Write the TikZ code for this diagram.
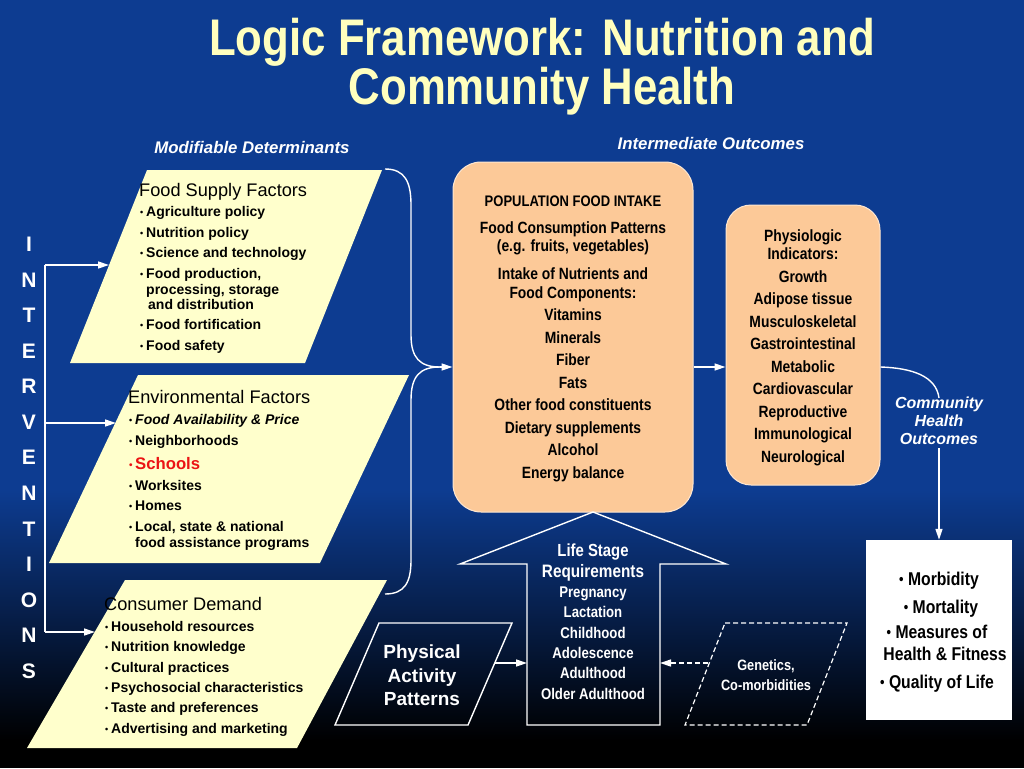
\documentclass[tikz,border=0pt]{standalone}
\usepackage{fontspec}
\setmainfont{Liberation Sans}
\newfontfamily\nar[FakeStretch=0.85]{Liberation Sans}
\usetikzlibrary{arrows.meta}
\definecolor{bgblue}{RGB}{13,60,145}
\definecolor{midc}{RGB}{52,62,108}
\definecolor{pyellow}{RGB}{255,255,204}
\definecolor{peach}{RGB}{252,201,152}
\definecolor{ttl}{RGB}{255,255,190}
\definecolor{schred}{RGB}{235,20,20}
\newcommand\fsz[2]{\fontsize{#1}{#2}\selectfont}
\newcommand\bul{\makebox[6pt][l]{\raisebox{0.5pt}{\fontsize{9}{9}\selectfont\textbullet}}}
\newcommand\obul{\raisebox{0.5pt}{\fontsize{15}{15}\selectfont\textbullet}\ }
\tikzset{
  wl/.style={draw=white, line width=1.4pt},
  arr/.style={wl, -{Triangle[length=11pt,width=7pt]}},
  ptxt/.style={anchor=base west, inner sep=0pt, font=\fsz{14}{16}\bfseries},
  phdr/.style={anchor=base west, inner sep=0pt, font=\fsz{18.2}{20}},
  ctxt/.style={anchor=base, inner sep=0pt, font=\nar\bfseries\fsz{16.3}{18}},
  otxt/.style={anchor=base, inner sep=0pt, font=\nar\bfseries\fsz{18.5}{20}},
  ltxt/.style={anchor=base, inner sep=0pt, text=white, font=\nar\bfseries\fsz{15.5}{18}},
  pbox/.style={rounded corners=28pt, fill=peach, draw=white!55!peach, line width=1pt, inner sep=0pt},
  ivl/.style={anchor=base, inner sep=0pt, text=white, font=\bfseries\fsz{21}{24}},
  sect/.style={inner sep=0pt, text=white, font=\bfseries\itshape\fsz{16.8}{18}},
  ttlst/.style={anchor=base, inner sep=0pt, text=ttl, font=\nar\bfseries\fsz{51.5}{50}},
}
\begin{document}
\begin{tikzpicture}[x=1pt,y=-1pt]
\useasboundingbox (0,0) rectangle (1024,768);
% background
\fill[bgblue] (0,0) rectangle (1024,491);
\shade[top color=bgblue, middle color=midc, bottom color=black] (0,490) rectangle (1024,741);
\fill[black] (0,740) rectangle (1024,768);

% title
\node[ttlst] (title1) at (542,56) {Logic Framework: Nutrition and};
\node[ttlst] (title2) at (542,104) {Community Health};

\node[sect] (md) at (252,147) {Modifiable Determinants};
\node[sect] (io) at (711,143) {Intermediate Outcomes};

% parallelograms
\fill[pyellow] (147,170) -- (382,170) -- (305,363) -- (70,363) -- cycle;
\fill[pyellow] (138,375) -- (409,375) -- (320,563) -- (49,563) -- cycle;
\fill[pyellow] (125,580) -- (387,580) -- (297,748) -- (27,748) -- cycle;

\node[phdr] (p1h) at (139,196.5) {Food Supply Factors};
\node[ptxt] (p1a) at (140,216) {\bul Agriculture policy};
\node[ptxt] (p1b) at (140,237) {\bul Nutrition policy};
\node[ptxt] (p1c) at (140,257) {\bul Science and technology};
\node[ptxt] (p1d) at (140,278) {\bul Food production,};
\node[ptxt] (p1e) at (146,294) {processing, storage};
\node[ptxt] (p1f) at (148,309) {and distribution};
\node[ptxt] (p1g) at (140,329) {\bul Food fortification};
\node[ptxt] (p1i) at (140,350) {\bul Food safety};

\node[phdr] (p2h) at (128,403.5) {Environmental Factors};
\node[ptxt] (p2a) at (129,424) {\bul\textit{Food Availability \& Price}};
\node[ptxt] (p2b) at (129,445) {\bul Neighborhoods};
\node[ptxt, text=schred, font=\fsz{16.7}{18}\bfseries] (p2c) at (129,469) {\makebox[6pt][l]{\raisebox{0.5pt}{\fontsize{10}{10}\selectfont\textbullet}}Schools};
\node[ptxt] (p2d) at (129,490) {\bul Worksites};
\node[ptxt] (p2e) at (129,510) {\bul Homes};
\node[ptxt] (p2f) at (129,531) {\bul Local, state \& national};
\node[ptxt] (p2g) at (135,547) {food assistance programs};

\node[phdr] (p3h) at (104,610.5) {Consumer Demand};
\node[ptxt] (p3a) at (105,631) {\bul Household resources};
\node[ptxt] (p3b) at (105,651) {\bul Nutrition knowledge};
\node[ptxt] (p3c) at (105,672) {\bul Cultural practices};
\node[ptxt] (p3d) at (105,692) {\bul Psychosocial characteristics};
\node[ptxt] (p3e) at (105,712) {\bul Taste and preferences};
\node[ptxt] (p3f) at (105,733) {\bul Advertising and marketing};

% INTERVENTIONS
\foreach \l [count=\i from 0] in {I,N,T,E,R,V,E,N,T,I,O,N,S}
  \node[ivl] (iv\i) at (29,{251.5+\i*35.58}) {\l};

\coordinate (ivA) at (45,265);
\coordinate (ivB) at (45,423);
\coordinate (ivC) at (45,632);
\coordinate (p1in) at (109,265);
\coordinate (p2in) at (116,423);
\coordinate (p3in) at (95,632);
\draw[wl] (ivA) -- (ivC);
\draw[arr] (ivA) -- (p1in);
\draw[arr] (ivB) -- (p2in);
\draw[arr] (ivC) -- (p3in);

% central box
\node[pbox, minimum width=240pt, minimum height=350pt] (intake) at (573,337) {};
\node[ctxt, font=\nar\bfseries\fsz{15.3}{18}] (c1) at (573,206.5) {POPULATION FOOD INTAKE};
\node[ctxt] (c2) at (573,233) {Food Consumption Patterns};
\node[ctxt] (c3) at (573,251) {(e.g. fruits, vegetables)};
\node[ctxt] (c4) at (573,279) {Intake of Nutrients and};
\node[ctxt] (c5) at (573,298) {Food Components:};
\node[ctxt] (c6) at (573,320) {Vitamins};
\node[ctxt] (c7) at (573,343) {Minerals};
\node[ctxt] (c8) at (573,365) {Fiber};
\node[ctxt] (c9) at (573,388) {Fats};
\node[ctxt] (c10) at (573,410) {Other food constituents};
\node[ctxt] (c11) at (573,433) {Dietary supplements};
\node[ctxt] (c12) at (573,455) {Alcohol};
\node[ctxt] (c13) at (573,478) {Energy balance};

% physiologic box
\node[pbox, rounded corners=25pt, minimum width=154pt, minimum height=280pt] (physio) at (803,345) {};
\node[ctxt] (h1) at (803,241) {Physiologic};
\node[ctxt] (h2) at (803,259) {Indicators:};
\node[ctxt] (h3) at (803,282) {Growth};
\node[ctxt] (h4) at (803,304) {Adipose tissue};
\node[ctxt] (h5) at (803,327) {Musculoskeletal};
\node[ctxt] (h6) at (803,349) {Gastrointestinal};
\node[ctxt] (h7) at (803,372) {Metabolic};
\node[ctxt] (h8) at (803,394) {Cardiovascular};
\node[ctxt] (h9) at (803,417) {Reproductive};
\node[ctxt] (h10) at (803,439) {Immunological};
\node[ctxt] (h11) at (803,462) {Neurological};

% braces into central box
\coordinate (b1s) at (385,169);
\coordinate (b2s) at (385,594);
\coordinate (merge) at (440,367);
\draw[wl] (b1s) .. controls (405,169) and (411,182) .. (411,205) -- (411,335) .. controls (411,358) and (420,367) .. (merge);
\draw[wl] (b2s) .. controls (405,594) and (411,582) .. (411,560) -- (411,400) .. controls (411,376) and (420,367) .. (merge);
\draw[arr] (merge) -- (intake.west |- merge);
\draw[arr] (intake.east |- merge) -- (physio.west |- merge);

% community health outcomes
\node[sect, align=center, font=\bfseries\itshape\fsz{16}{18}] (cho) at (939,421) {Community\\Health\\Outcomes};
\coordinate (phout) at (physio.east |- merge);
\draw[wl] (phout) .. controls (912,368) and (936,376) .. ([yshift=-1pt]cho.north);
\node[fill=white, minimum width=146pt, minimum height=180pt, inner sep=0pt] (outcome) at (939,630) {};
\draw[arr] ([yshift=-3pt]cho.south) -- (outcome.north);
\node[otxt] (o1) at (939,585) {\obul Morbidity};
\node[otxt] (o2) at (941,613) {\obul Mortality};
\node[otxt] (o3) at (937,638) {\obul Measures of};
\node[otxt] (o4) at (945,660) {Health \& Fitness};
\node[otxt] (o5) at (937,688) {\obul Quality of Life};

% life stage arrow
\coordinate (tip) at (593,512);
\draw[wl, line join=miter] (tip) -- (726,564) -- (660,564) -- (660,725) -- (527,725) -- (527,564) -- (460,564) -- cycle;
\coordinate (shaftL) at (527,663);
\coordinate (shaftR) at (660,663);
\node[ltxt, font=\nar\bfseries\fsz{17.5}{20}] (l1) at (593,556) {Life Stage};
\node[ltxt, font=\nar\bfseries\fsz{18}{20}] (l2) at (593,577) {Requirements};
\node[ltxt] (l3) at (593,597.5) {Pregnancy};
\node[ltxt] (l4) at (593,617.5) {Lactation};
\node[ltxt] (l5) at (593,638.5) {Childhood};
\node[ltxt] (l6) at (593,658.5) {Adolescence};
\node[ltxt] (l7) at (593,678.5) {Adulthood};
\node[ltxt] (l8) at (593,699.5) {Older Adulthood};

% physical activity
\draw[wl, line join=miter] (379,623) -- (512,623) -- (468,725) -- (335,725) -- cycle;
\node[anchor=base, inner sep=0pt, text=white, font=\bfseries\fsz{19}{22}] (pa1) at (422,658) {Physical};
\node[anchor=base, inner sep=0pt, text=white, font=\bfseries\fsz{19}{22}] (pa2) at (422,682) {Activity};
\node[anchor=base, inner sep=0pt, text=white, font=\bfseries\fsz{19}{22}] (pa3) at (422,705) {Patterns};
\coordinate (paR) at (495,663);
\draw[arr] (paR) -- (shaftL);

% genetics
\draw[wl, line width=1.2pt, dash pattern=on 5pt off 3pt] (725,623) -- (847,623) -- (807,725) -- (685,725) -- cycle;
\node[ltxt, font=\nar\bfseries\fsz{15}{18}] (g1) at (766,670.5) {Genetics,};
\node[ltxt, font=\nar\bfseries\fsz{15}{18}] (g2) at (766,690.5) {Co-morbidities};
\coordinate (genL) at (708,663);
\draw[arr, dash pattern=on 5pt off 3pt] (genL) -- (shaftR);
\end{tikzpicture}
\end{document}
